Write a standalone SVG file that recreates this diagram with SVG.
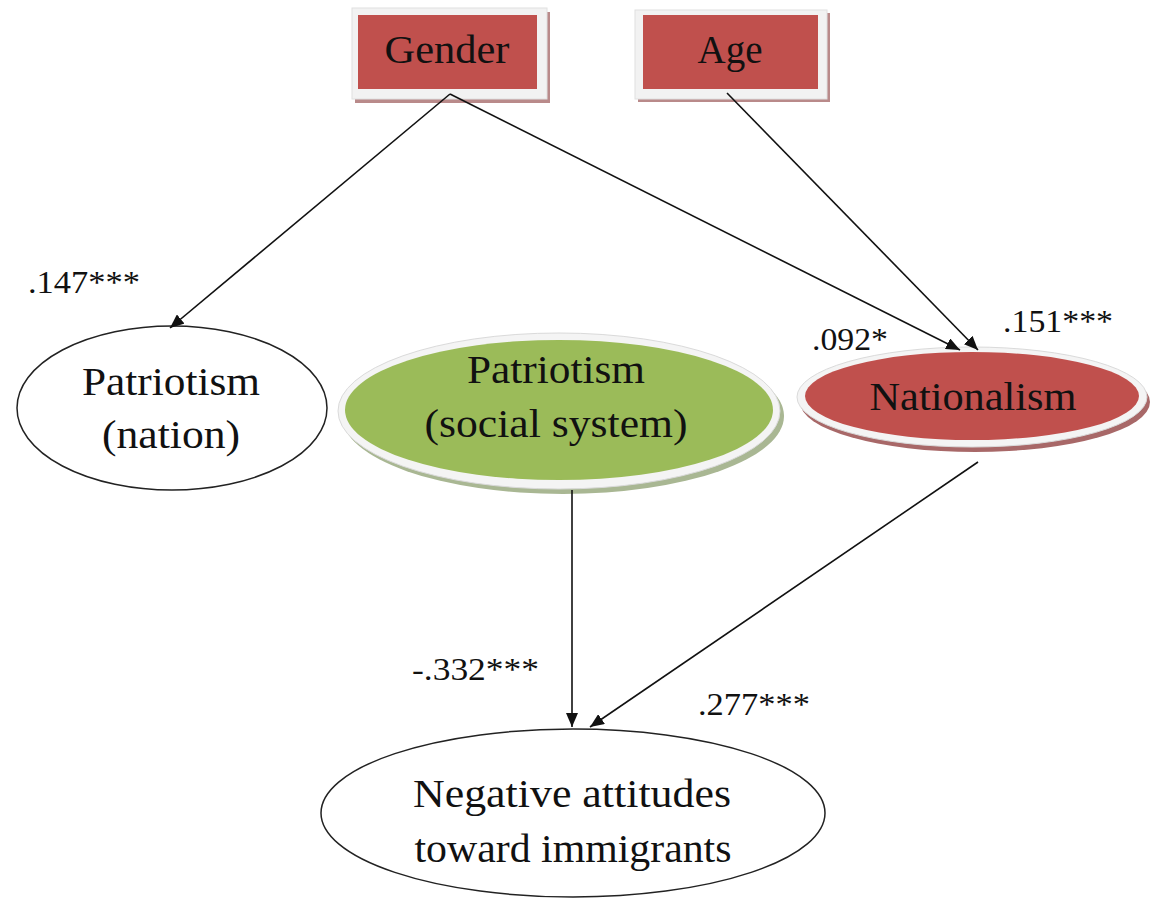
<svg xmlns="http://www.w3.org/2000/svg" width="1153" height="907" viewBox="0 0 1153 907">
<defs>
<style>
.t{font-family:'Liberation Serif','DejaVu Serif',serif;fill:#111;text-anchor:middle}
.big{font-size:39px}
.num{font-family:'Liberation Serif','DejaVu Serif',serif;font-size:31px;fill:#111}
.ln{stroke:#111;stroke-width:1.6;fill:none;marker-end:url(#ah)}
.frame{fill:#f2f2f2;stroke:#e0e0e0;stroke-width:1}
.bshadow{fill:#b98a8a}
.red{fill:#c0504d}
</style>
<marker id="ah" viewBox="0 0 14 12" refX="14" refY="6" markerWidth="14" markerHeight="12" markerUnits="userSpaceOnUse" orient="auto">
<path d="M0,0 L14,6 L0,12 Z" fill="#111"/>
</marker>
</defs>
<rect width="1153" height="907" fill="#fff"/>

<g id="gender">
<rect class="bshadow" x="355" y="12" width="195" height="91"/>
<rect class="frame" x="352" y="8" width="195" height="91"/>
<rect class="red" x="358" y="15" width="179" height="74"/>
<text class="t big" font-family="Liberation Serif, serif" x="447" y="63" textLength="125" lengthAdjust="spacingAndGlyphs">Gender</text>
</g>

<g id="age">
<rect class="bshadow" x="638" y="13" width="192" height="89"/>
<rect class="frame" x="635" y="10" width="192" height="89"/>
<rect class="red" x="643" y="15" width="175" height="74"/>
<text class="t big" x="730" y="63" textLength="65" lengthAdjust="spacingAndGlyphs">Age</text>
</g>

<g id="patriotism-nation">
<ellipse cx="172" cy="408" rx="155" ry="82" fill="#fff" stroke="#222" stroke-width="1.5"/>
<text class="t big" x="171" y="395" textLength="178" lengthAdjust="spacingAndGlyphs">Patriotism</text>
<text class="t big" x="171" y="448" textLength="138" lengthAdjust="spacingAndGlyphs">(nation)</text>
</g>

<g id="patriotism-social">
<ellipse cx="563" cy="416" rx="221" ry="78" fill="#a9b793"/>
<ellipse cx="559" cy="411" rx="221" ry="78" fill="#f4f4f4" stroke="#dadada" stroke-width="1"/>
<ellipse cx="559" cy="410" rx="214" ry="70" fill="#9bbb59"/>
<text class="t big" x="556" y="383" textLength="178" lengthAdjust="spacingAndGlyphs">Patriotism</text>
<text class="t big" x="556" y="437" textLength="263" lengthAdjust="spacingAndGlyphs">(social system)</text>
</g>

<g id="nationalism">
<ellipse cx="975" cy="402" rx="175" ry="50" fill="#a86868"/>
<ellipse cx="972" cy="397" rx="175" ry="50" fill="#f4f4f4" stroke="#dadada" stroke-width="1"/>
<ellipse cx="972" cy="396" rx="167" ry="44" fill="#c0504d"/>
<text class="t big" x="973" y="410" textLength="207" lengthAdjust="spacingAndGlyphs">Nationalism</text>
</g>

<g id="negative-attitudes">
<ellipse cx="573" cy="813" rx="252" ry="84" fill="#fff" stroke="#222" stroke-width="1.5"/>
<text class="t big" x="572" y="807" textLength="318" lengthAdjust="spacingAndGlyphs">Negative attitudes</text>
<text class="t big" x="573" y="862" textLength="317" lengthAdjust="spacingAndGlyphs">toward immigrants</text>
</g>

<g id="connectors">
<line class="ln" x1="450" y1="94" x2="170" y2="328"/>
<line class="ln" x1="450" y1="94" x2="960" y2="350"/>
<line class="ln" x1="727" y1="93" x2="978" y2="350"/>
<line class="ln" x1="572" y1="490" x2="572" y2="727"/>
<line class="ln" x1="978" y1="462" x2="590" y2="727"/>
</g>

<g id="labels">
<text class="num" x="28" y="293" textLength="112" lengthAdjust="spacingAndGlyphs">.147***</text>
<text class="num" x="812" y="350" textLength="76" lengthAdjust="spacingAndGlyphs">.092*</text>
<text class="num" x="1003" y="332" textLength="110" lengthAdjust="spacingAndGlyphs">.151***</text>
<text class="num" x="412" y="680" textLength="127" lengthAdjust="spacingAndGlyphs">-.332***</text>
<text class="num" x="698" y="715" textLength="112" lengthAdjust="spacingAndGlyphs">.277***</text>
</g>
</svg>
